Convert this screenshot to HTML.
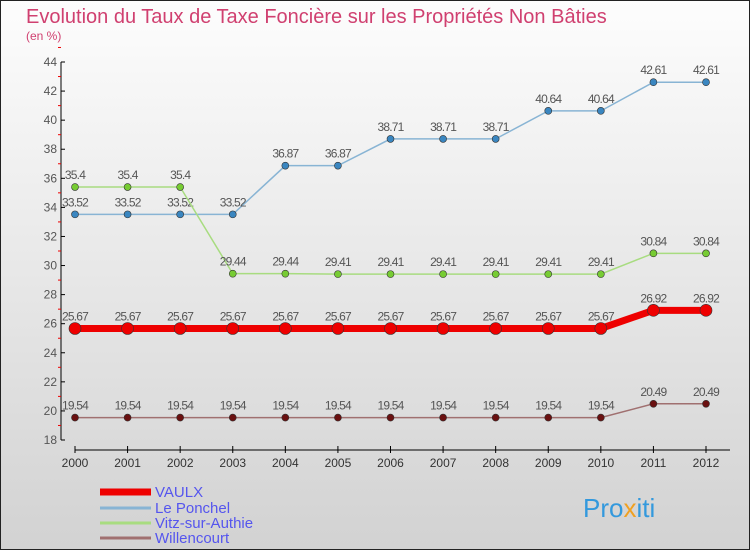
<!DOCTYPE html>
<html><head><meta charset="utf-8"><style>
body{margin:0}
#c{width:750px;height:550px;position:relative;overflow:hidden}
svg text{font-family:"Liberation Sans",sans-serif}
</style></head><body>
<div id="c">
<svg id="s" width="750" height="550" xmlns="http://www.w3.org/2000/svg">
<defs><linearGradient id="bg" x1="0" y1="0" x2="0" y2="1"><stop offset="0" stop-color="#fdfdfd"/><stop offset="1" stop-color="#d2d2d2"/></linearGradient></defs>
<rect x="0.5" y="0.5" width="749" height="549" fill="url(#bg)" stroke="#222"/>
<text x="26" y="23" font-size="20" fill="#d04070">Evolution du Taux de Taxe Foncière sur les Propriétés Non Bâties</text>
<text x="26" y="40" font-size="12" fill="#d04070">(en %)</text>
<g id="axes"></g><g id="series"></g><g id="legend"></g>
<text x="583" y="517" font-size="26" fill="#f0a020"><tspan fill="#3399dd">Pro</tspan><tspan fill="#f0a020">x</tspan><tspan fill="#3399dd">iti</tspan></text>
</svg></div>
<script>
const years=[2000,2001,2002,2003,2004,2005,2006,2007,2008,2009,2010,2011,2012];
const yTicks=[18,20,22,24,26,28,30,32,34,36,38,40,42,44];
const vaulx=[25.67,25.67,25.67,25.67,25.67,25.67,25.67,25.67,25.67,25.67,25.67,26.92,26.92];
const ponchel=[33.52,33.52,33.52,33.52,36.87,36.87,38.71,38.71,38.71,40.64,40.64,42.61,42.61];
const vitz=[35.4,35.4,35.4,29.44,29.44,29.41,29.41,29.41,29.41,29.41,29.41,30.84,30.84];
const willen=[19.54,19.54,19.54,19.54,19.54,19.54,19.54,19.54,19.54,19.54,19.54,20.49,20.49];
const names=["VAULX","Le Ponchel","Vitz-sur-Authie","Willencourt"];
const NS="http://www.w3.org/2000/svg";
const X=i=>75+i*(706-75)/(years.length-1);
const Y=v=>440-(v-18)*(440-62)/26;
function mk(t,a,p){const e=document.createElementNS(NS,t);for(const k in a)e.setAttribute(k,a[k]);p.appendChild(e);return e;}
const ax=document.getElementById('axes');
const yl=mk('line',{x1:61,y1:62,x2:61,y2:440,stroke:'#000'},ax);


yTicks.forEach(v=>{
 mk('line',{x1:61,y1:Y(v),x2:65,y2:Y(v),stroke:'#000'},ax);
 mk('line',{x1:58,y1:Y(v+1),x2:61,y2:Y(v+1),stroke:'#e00'},ax);
 const t=mk('text',{x:57,y:Y(v)+4,'font-size':12,'text-anchor':'end',fill:'#555'},ax);t.textContent=v;
 
 
});
const xl=mk('line',{x1:75,y1:450,x2:730,y2:450,stroke:'#000'},ax);


years.forEach((y,i)=>{
 mk('line',{x1:X(i),y1:446,x2:X(i),y2:453,stroke:'#000'},ax);
 const t=mk('text',{x:X(i),y:467,'font-size':12,'text-anchor':'middle',fill:'#333'},ax);t.textContent=y;
 
 
});
const sg=document.getElementById('series');
const defs=[[ponchel,'#88b4d4','#3a86c0',1.5,3.5],[vitz,'#a8dc80','#77cc33',1.5,3.5],[willen,'#a07070','#6a1010',1.5,3.5],[vaulx,'#ee0000','#ee0000',7,6]];
const snames=['le-ponchel','vitz-sur-authie','willencourt','vaulx'];
defs.forEach((d,k)=>{
 const [vals,lc,pc,w,r]=d;
 const pl=mk('polyline',{points:vals.map((v,i)=>X(i)+','+Y(v)).join(' '),fill:'none',stroke:lc,'stroke-width':w},sg);
 
 
 vals.forEach((v,i)=>{
  const c=mk('circle',{cx:X(i),cy:Y(v),r:r,fill:pc,stroke:'#333','stroke-width':0.6},sg);
  
  
  const t=mk('text',{x:X(i),y:Y(v)-8,'font-size':12,'text-anchor':'middle',fill:'#555','letter-spacing':'-0.8'},sg);
  t.textContent=v;
  
  
 });
});
const lg=document.getElementById('legend');
const lcol=['#ee0000','#88b4d4','#a8dc80','#a07070'],lw=[7,3,3,3],ly=[492,508,523,538];
names.forEach((n,i)=>{
 const l=mk('line',{x1:100,y1:ly[i],x2:151,y2:ly[i],stroke:lcol[i],'stroke-width':lw[i]},lg);
 
 
 const t=mk('text',{x:155,y:ly[i]+5,'font-size':15,fill:'#5555ee'},lg);t.textContent=n;
 
 
});
</script>
</body></html>
